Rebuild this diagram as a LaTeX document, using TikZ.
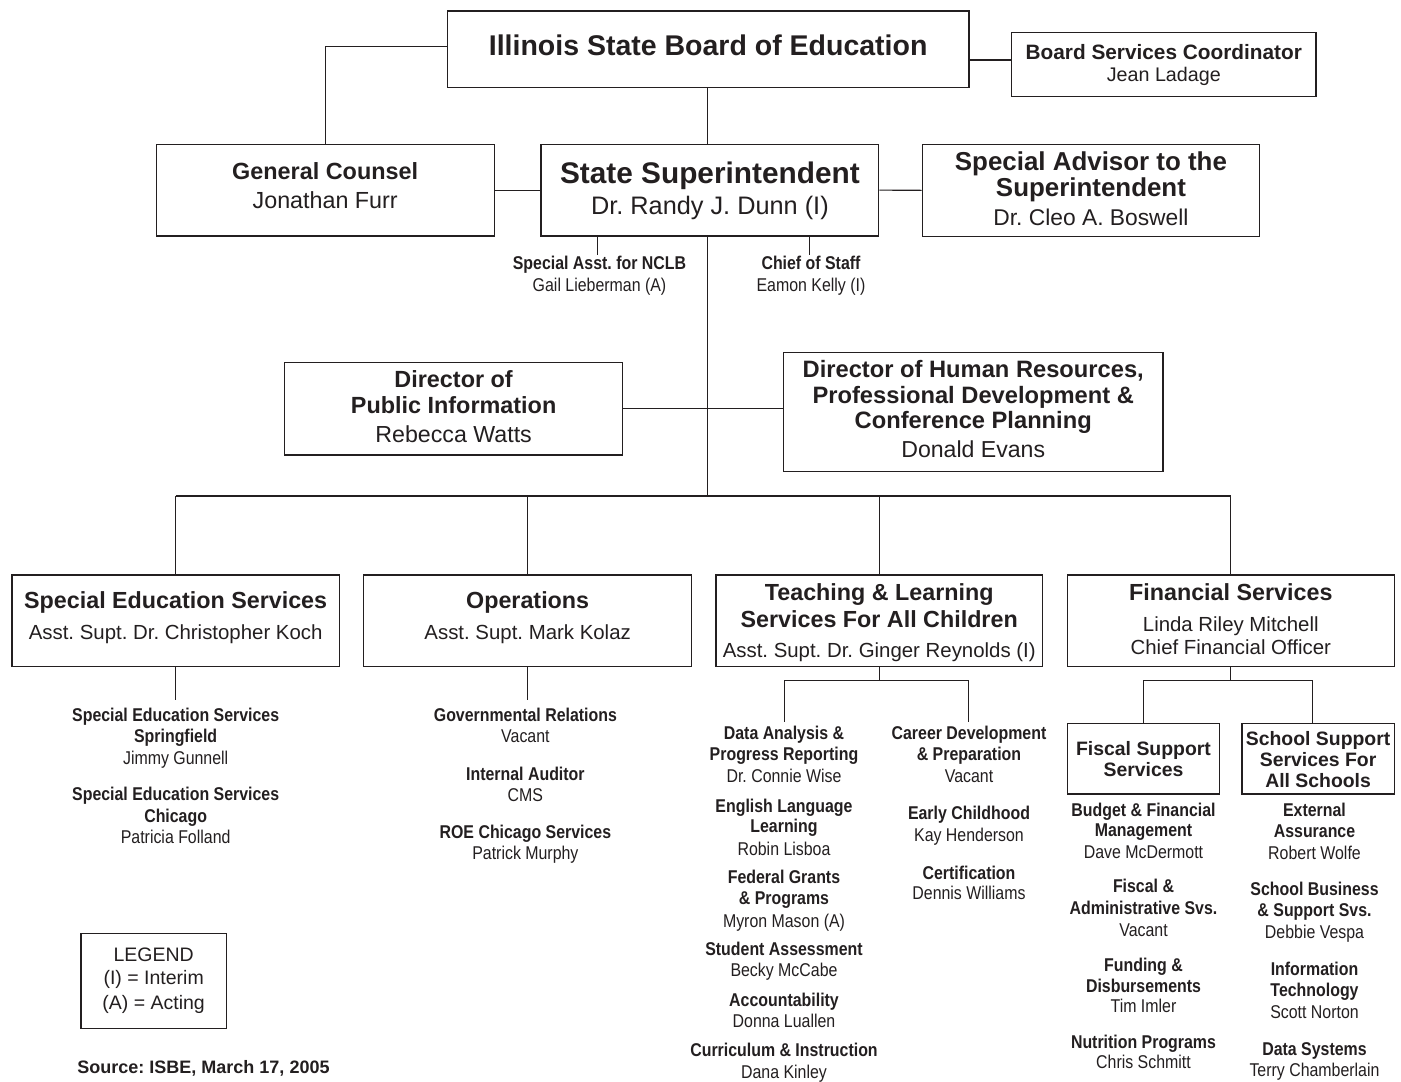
\documentclass[tikz,border=0pt]{standalone}
\usepackage{fontspec}
\setmainfont{Liberation Sans}
\newfontfamily\narrowfont[FakeStretch=0.86]{Liberation Sans}
\definecolor{ink}{HTML}{231F20}
\newcounter{txtline}
\newcommand\tline[4]{\stepcounter{txtline}\node[#1] (txt\arabic{txtline}) at (#2,#3) {#4};}
\tikzset{
  box/.style={draw=ink, line width=1.3pt, inner sep=0pt, fill=white},
  conn/.style={draw=ink, line width=1.1pt},
  tB/.style={font=\fontsize{#1}{#1}\selectfont\bfseries, anchor=base, inner sep=0pt, text=ink, yshift={-0.35*#1pt}},
  tR/.style={font=\fontsize{#1}{#1}\selectfont, anchor=base, inner sep=0pt, text=ink, yshift={-0.35*#1pt}},
  nB/.style={font=\narrowfont\fontsize{18.5}{18.5}\selectfont\bfseries, anchor=base, inner sep=0pt, text=ink, yshift=-6.5pt},
  nR/.style={font=\narrowfont\fontsize{18.5}{18.5}\selectfont, anchor=base, inner sep=0pt, text=ink, yshift=-6.5pt}
}
\frenchspacing
\begin{document}
\begin{tikzpicture}[x=1pt,y=-1pt]
\fill[white] (0,0) rectangle (1401,1082);
\useasboundingbox (0,0) rectangle (1401,1082);

% boxes
\node[box, minimum width=521.7pt, minimum height=76.3pt] (isbe) at (708.15,49.15) {};
\node[box, minimum width=304.4pt, minimum height=64pt] (board) at (1163.8,64.3) {};
\node[box, minimum width=338pt, minimum height=91.7pt] (gc) at (325.2,190.15) {};
\node[box, minimum width=337.8pt, minimum height=91.7pt] (ss) at (709.9,190.15) {};
\node[box, minimum width=337.5pt, minimum height=92pt] (sa) at (1090.95,190.3) {};
\node[box, minimum width=338.4pt, minimum height=92.3pt] (dpi) at (453.6,408.85) {};
\node[box, minimum width=379.5pt, minimum height=118.6pt] (hr) at (973.25,412) {};
\node[box, minimum width=327.3pt, minimum height=91.7pt] (sed) at (175.65,620.85) {};
\node[box, minimum width=327.7pt, minimum height=91.7pt] (ops) at (527.65,620.85) {};
\node[box, minimum width=326.4pt, minimum height=91.7pt] (tl) at (879.2,620.85) {};
\node[box, minimum width=326.8pt, minimum height=91.7pt] (fin) at (1230.8,620.85) {};
\node[box, minimum width=152.4pt, minimum height=70.7pt] (fss) at (1143.5,758.65) {};
\node[box, minimum width=152.4pt, minimum height=70.7pt] (sss) at (1318.1,758.65) {};
\node[box, line width=1.1pt, minimum width=145.3pt, minimum height=95.4pt] (legend) at (153.65,981) {};

% helper coordinates
\coordinate (bus) at (707.6,496);
\coordinate (nclbend) at (597.5,255);
\coordinate (chiefend) at (809.5,255);
\coordinate (lowA) at (0,700);
\coordinate (bar) at (0,680.7);
\coordinate (tlA) at (784.3,721.7);
\coordinate (tlB) at (968.9,721.7);
\coordinate (sssdrop) at (1312.7,0);

% connectors
\draw[conn] ([yshift=3pt]isbe.west) -| (gc.north);
\draw[conn] ([yshift=4.3pt]board.west) -- ([yshift=4.3pt]board.west -| isbe.east);
\draw[conn] (bus |- isbe.south) -- (bus |- ss.north);
\draw[conn] (gc.east) -- (ss.west);
\draw[conn] (ss.east) -- (sa.west);
\draw[conn] (nclbend |- ss.south) -- (nclbend);
\draw[conn] (chiefend |- ss.south) -- (chiefend);
\draw[conn] (bus |- ss.south) -- (bus);
\draw[conn] (dpi.east) -- (dpi.east -| hr.west);
\draw[conn] (sed.north |- bus) -- (fin.north |- bus);
\foreach \n in {sed,ops,tl,fin} \draw[conn] (\n.north) -- (\n.north |- bus);
\draw[conn] (sed.south) -- (sed.south |- lowA);
\draw[conn] (ops.south) -- (ops.south |- lowA);
\draw[conn] (tl.south) -- (tl.south |- bar);
\draw[conn] (tlA) -- (tlA |- bar) -- (tlB |- bar) -- (tlB);
\draw[conn] (fin.south) -- (fin.south |- bar);
\draw[conn] (fss.north) -- (fss.north |- bar) -- (sssdrop |- bar) -- (sssdrop |- sss.north);

% texts in top boxes
\tline{tB=28.5}{708.15}{45.8}{Illinois State Board of Education}
\tline{tB=20.8}{1163.8}{52.5}{Board Services Coordinator}
\tline{tR=19.7}{1163.8}{75}{Jean Ladage}
\tline{tB=23.4}{325.2}{171}{General Counsel}
\tline{tR=23.3}{325.2}{200.3}{Jonathan Furr}
\tline{tB=29.8}{709.9}{173}{State Superintendent}
\tline{tR=25.3}{709.9}{205.3}{Dr. Randy J. Dunn (I)}
\tline{tB=25.9}{1090.95}{161.3}{Special Advisor to the}
\tline{tB=25.9}{1090.95}{187.5}{Superintendent}
\tline{tR=22.8}{1090.95}{217.7}{Dr. Cleo A. Boswell}
\tline{nB}{599.5}{262.7}{Special Asst. for NCLB}
\tline{nR}{599.5}{284.5}{Gail Lieberman (A)}
\tline{nB}{811}{262.7}{Chief of Staff}
\tline{nR}{811}{284.5}{Eamon Kelly (I)}
\tline{tB=23.4}{453.6}{379.5}{Director of}
\tline{tB=23.4}{453.6}{405.5}{Public Information}
\tline{tR=23.2}{453.6}{434.7}{Rebecca Watts}
\tline{tB=23.7}{973.25}{368.7}{Director of Human Resources,}
\tline{tB=23.7}{973.25}{394.7}{Professional Development \&}
\tline{tB=23.7}{973.25}{420.3}{Conference Planning}
\tline{tR=23.1}{973.25}{449.5}{Donald Evans}

% division boxes
\tline{tB=23.3}{175.65}{600.3}{Special Education Services}
\tline{tR=20.4}{175.65}{632.5}{Asst. Supt. Dr. Christopher Koch}
\tline{tB=23.3}{527.65}{600.3}{Operations}
\tline{tR=20.4}{527.65}{632.5}{Asst. Supt. Mark Kolaz}
\tline{tB=23.3}{879.2}{592.8}{Teaching \& Learning}
\tline{tB=23.3}{879.2}{619.5}{Services For All Children}
\tline{tR=20.4}{879.2}{650}{Asst. Supt. Dr. Ginger Reynolds (I)}
\tline{tB=23.3}{1230.8}{592.8}{Financial Services}
\tline{tR=20.4}{1230.8}{624.5}{Linda Riley Mitchell}
\tline{tR=20.4}{1230.8}{647.5}{Chief Financial Officer}
\tline{tB=19.4}{1143.5}{748.8}{Fiscal Support}
\tline{tB=19.4}{1143.5}{769.7}{Services}
\tline{tB=19.4}{1318.1}{738.8}{School Support}
\tline{tB=19.4}{1318.1}{759.7}{Services For}
\tline{tB=19.4}{1318.1}{781.2}{All Schools}

% special education list
\tline{nB}{175.65}{714.7}{Special Education Services}
\tline{nB}{175.65}{736.3}{Springfield}
\tline{nR}{175.65}{757.8}{Jimmy Gunnell}
\tline{nB}{175.65}{794.2}{Special Education Services}
\tline{nB}{175.65}{816.3}{Chicago}
\tline{nR}{175.65}{837.3}{Patricia Folland}

% operations list
\tline{nB}{525.4}{714.7}{Governmental Relations}
\tline{nR}{525.4}{735.8}{Vacant}
\tline{nB}{525.4}{773.7}{Internal Auditor}
\tline{nR}{525.4}{794.5}{CMS}
\tline{nB}{525.4}{831.7}{ROE Chicago Services}
\tline{nR}{525.4}{853}{Patrick Murphy}

% teaching and learning list 1
\tline{nB}{784}{733.3}{Data Analysis \&}
\tline{nB}{784}{754.2}{Progress Reporting}
\tline{nR}{784}{775.8}{Dr. Connie Wise}
\tline{nB}{784}{805.5}{English Language}
\tline{nB}{784}{826.3}{Learning}
\tline{nR}{784}{848.5}{Robin Lisboa}
\tline{nB}{784}{877.2}{Federal Grants}
\tline{nB}{784}{897.8}{\& Programs}
\tline{nR}{784}{920.5}{Myron Mason (A)}
\tline{nB}{784}{949.2}{Student Assessment}
\tline{nR}{784}{970.2}{Becky McCabe}
\tline{nB}{784}{999.5}{Accountability}
\tline{nR}{784}{1020.8}{Donna Luallen}
\tline{nB}{784}{1050.3}{Curriculum \& Instruction}
\tline{nR}{784}{1071.5}{Dana Kinley}

% teaching and learning list 2
\tline{nB}{969}{733.3}{Career Development}
\tline{nB}{969}{754.2}{\& Preparation}
\tline{nR}{969}{775.8}{Vacant}
\tline{nB}{969}{813}{Early Childhood}
\tline{nR}{969}{835}{Kay Henderson}
\tline{nB}{969}{872.7}{Certification}
\tline{nR}{969}{893.3}{Dennis Williams}

% fiscal list
\tline{nB}{1143.5}{809.5}{Budget \& Financial}
\tline{nB}{1143.5}{830.3}{Management}
\tline{nR}{1143.5}{852.2}{Dave McDermott}
\tline{nB}{1143.5}{886.3}{Fiscal \&}
\tline{nB}{1143.5}{908.3}{Administrative Svs.}
\tline{nR}{1143.5}{929.5}{Vacant}
\tline{nB}{1143.5}{965}{Funding \&}
\tline{nB}{1143.5}{985.5}{Disbursements}
\tline{nR}{1143.5}{1006.2}{Tim Imler}
\tline{nB}{1143.5}{1041.7}{Nutrition Programs}
\tline{nR}{1143.5}{1062}{Chris Schmitt}

% school support list
\tline{nB}{1314.5}{810}{External}
\tline{nB}{1314.5}{830.7}{Assurance}
\tline{nR}{1314.5}{852.7}{Robert Wolfe}
\tline{nB}{1314.5}{889}{School Business}
\tline{nB}{1314.5}{910}{\& Support Svs.}
\tline{nR}{1314.5}{931.7}{Debbie Vespa}
\tline{nB}{1314.5}{969.3}{Information}
\tline{nB}{1314.5}{990}{Technology}
\tline{nR}{1314.5}{1012.2}{Scott Norton}
\tline{nB}{1314.5}{1049.2}{Data Systems}
\tline{nR}{1314.5}{1070}{Terry Chamberlain}

% legend and source
\tline{tR=19.5}{153.65}{954.2}{LEGEND}
\tline{tR=19.5}{153.65}{977.8}{(I) = Interim}
\tline{tR=19.5}{153.65}{1002.5}{(A) = Acting}
\tline{tB=18}{203.5}{1066.7}{Source: ISBE, March 17, 2005}
\end{tikzpicture}
\end{document}
